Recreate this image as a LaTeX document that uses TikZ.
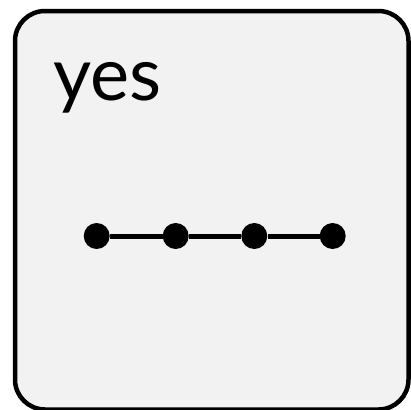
\documentclass[tikz,border=0pt]{standalone}
\usepackage{fontspec}
\setmainfont{Lato}
\begin{document}
\begin{tikzpicture}[x=1pt,y=-1pt,
  box/.style={draw=black,line width=4.5pt,fill=gray!10,rounded corners=30pt},
  dot/.style={circle,fill=black,inner sep=0pt,minimum size=26pt},
  link/.style={line width=5pt}]
\useasboundingbox (0,0) rectangle (410,410);
\draw[box] (15,11) rectangle (408.5,409.5);
\node[anchor=base west,inner sep=0pt,font=\fontsize{74}{74}\selectfont] (t) at (53,100) {yes};
\node[dot] (a) at (96.7,236) {};
\node[dot] (b) at (175.7,236) {};
\node[dot] (c) at (254.3,236) {};
\node[dot] (d) at (332.7,236) {};
\draw[link] (a) -- (b) -- (c) -- (d);
\end{tikzpicture}
\end{document}
